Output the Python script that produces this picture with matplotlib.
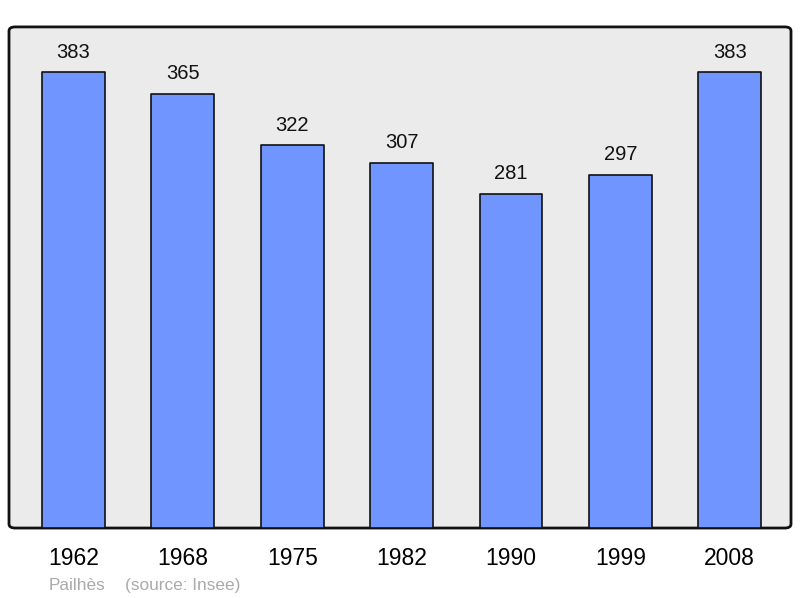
import matplotlib.pyplot as plt
from matplotlib.patches import FancyBboxPatch

years = ['1962', '1968', '1975', '1982', '1990', '1999', '2008']
population = [383, 365, 322, 307, 281, 297, 383]

plt.rcParams['font.family'] = ['Liberation Sans', 'DejaVu Sans']

fig = plt.figure(figsize=(8, 5.98), dpi=100)
ax = fig.add_axes([0.01125, 0.117, 0.9775, 0.838])

x = range(len(years))
bars = ax.bar(x, population, width=0.575, color='#7095ff', edgecolor='#111111',
              linewidth=1.2, zorder=2)
for b in bars:
    b.set_joinstyle('round')

for i, v in zip(x, population):
    ax.annotate(str(v), (i, v), xytext=(0, 7.5), textcoords='offset points',
                ha='center', va='bottom', fontsize=14.5, color='#111111')

ax.set_xlim(-0.59, 6.56)
ax.set_ylim(0, max(population) * 1.1)
ax.set_xticks(list(x))
ax.set_xticklabels(years, fontsize=16.5)
ax.tick_params(axis='x', length=0, pad=14)
ax.set_yticks([])

ax.patch.set_visible(False)
ax.spines[:].set_visible(False)
frame = FancyBboxPatch((0, 0), 1, 1, boxstyle='round,pad=0,rounding_size=0.008',
                       transform=ax.transAxes, facecolor='#ebebeb',
                       edgecolor='#111111', linewidth=2, zorder=0)
ax.add_patch(frame)
frame.set_clip_on(False)

fig.text(0.061, 0.014, 'Pailhès', fontsize=12.4, color='#aaaaaa')
fig.text(0.156, 0.014, '(source: Insee)', fontsize=12.4, color='#aaaaaa')

fig.savefig('out.png', dpi=100)
